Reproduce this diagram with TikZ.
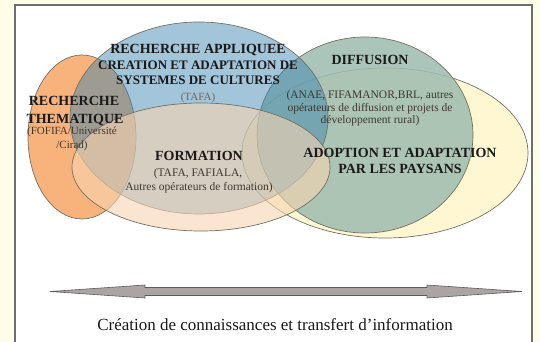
\documentclass[tikz,border=0pt]{standalone}
\usepackage{fontspec}
\setmainfont{Liberation Serif}
\definecolor{bgcream}{RGB}{255,252,232}
\definecolor{panelEdge}{RGB}{110,110,110}
\definecolor{orangeC}{RGB}{248,178,124}
\definecolor{yellowC}{RGB}{255,247,210}
\definecolor{diffC}{RGB}{158,188,175}
\definecolor{blueC}{RGB}{50,128,175}
\definecolor{formC}{RGB}{248,212,177}
\definecolor{edgeC}{RGB}{115,112,100}
\definecolor{titleC}{RGB}{25,25,25}
\definecolor{subC}{RGB}{60,55,48}
\definecolor{tafaC}{RGB}{120,100,82}
\definecolor{arrowFill}{RGB}{172,164,164}
\definecolor{arrowEdge}{RGB}{95,90,90}
\begin{document}
\begin{tikzpicture}[x=1pt,y=-1pt,
  ell/.style={draw=edgeC, line width=0.7pt},
  ttl/.style={font=\bfseries\fontsize{14}{16}\selectfont, text=titleC, inner sep=0pt, anchor=base},
  ttls/.style={font=\bfseries\fontsize{13}{15}\selectfont, text=titleC, inner sep=0pt, anchor=base},
  sub/.style={font=\fontsize{11.5}{13}\selectfont, text=subC, inner sep=0pt, anchor=base},
  subs/.style={font=\fontsize{11}{13}\selectfont, text=subC, inner sep=0pt, anchor=base}]
\useasboundingbox (0,0) rectangle (540,342);
\fill[bgcream] (0,0) rectangle (540,342);
\fill[white] (15,5) rectangle (532,342);
\draw[panelEdge, line width=1.2pt] (15,345) -- (15,5) -- (532,5) -- (532,345);

% ellipses
\path[ell, fill=orangeC] (82,137) ellipse [x radius=54, y radius=82];
\path[ell, fill=yellowC] (385,153) ellipse [x radius=143, y radius=85];
\path[ell, fill=diffC, fill opacity=0.85] (365,135) ellipse [x radius=108, y radius=98];
\path[ell, fill=blueC, fill opacity=0.45] (199,118) ellipse [x radius=129, y radius=96];
\path[ell, fill=formC, fill opacity=0.6] (201,167) ellipse [x radius=129, y radius=64];

% recherche appliquee
\node[ttl]  (ra1) at (198,54) {RECHERCHE APPLIQUEE};
\node[ttls] (ra2) at (198,70) {CREATION ET ADAPTATION DE};
\node[ttls] (ra3) at (198,85) {SYSTEMES DE CULTURES};
\node[subs, text=tafaC] (ra4) at (198,100) {(TAFA)};

% diffusion
\node[ttl] (di1) at (370,65) {DIFFUSION};
\node[sub] (di2) at (370,99) {(ANAE, FIFAMANOR,BRL, autres};
\node[sub] (di3) at (370,111.5) {opérateurs de diffusion et projets de};
\node[sub] (di4) at (370,124) {développement rural)};

% recherche thematique
\node[ttl] (rt1) at (74,106) {RECHERCHE};
\node[ttl] (rt2) at (75,123) {THEMATIQUE};
\node[subs] (rt3) at (72,134.5) {(FOFIFA/Université};
\node[subs] (rt4) at (72,148) {/Cirad)};

% formation
\node[ttl] (fo1) at (199,160) {FORMATION};
\node[sub] (fo2) at (198,176) {(TAFA, FAFIALA,};
\node[sub] (fo3) at (199,190) {Autres opérateurs de formation)};

% adoption
\node[ttl] (ad1) at (400,157) {ADOPTION ET ADAPTATION};
\node[ttl] (ad2) at (400,173) {PAR LES PAYSANS};

% double arrow
\coordinate (ltip) at (50,291.5);
\coordinate (rtip) at (522,291.5);
\filldraw[fill=arrowFill, draw=arrowEdge, line width=0.6pt]
  (ltip) -- (145,285) -- (145,287.5) -- (427,287.5) -- (427,285) -- (rtip)
  -- (427,298) -- (427,295.5) -- (145,295.5) -- (145,298) -- cycle;

% caption
\node[font=\fontsize{17}{20}\selectfont, text=titleC, inner sep=0pt, anchor=base] (cap) at (275,330)
  {Création de connaissances et transfert d’information};
\end{tikzpicture}
\end{document}
